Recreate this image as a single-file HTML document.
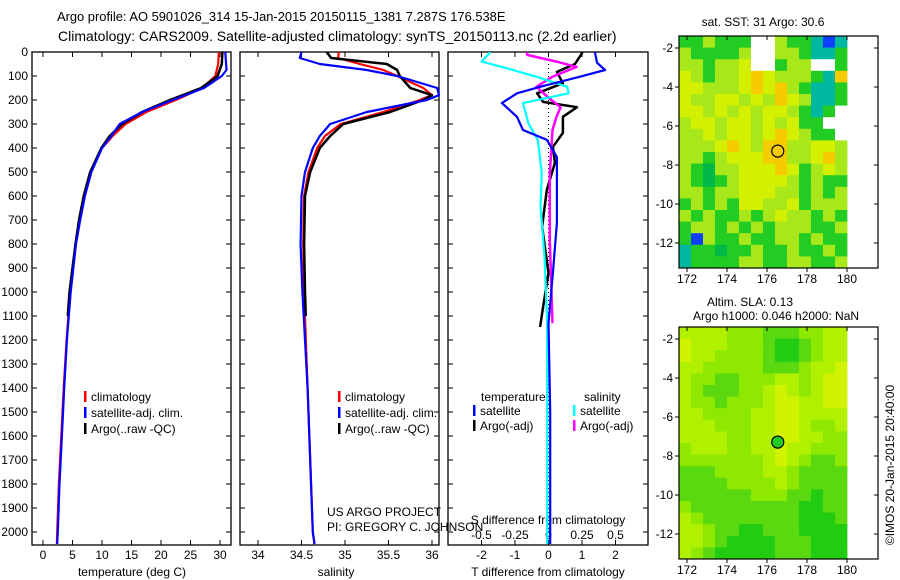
<!DOCTYPE html>
<html><head><meta charset="utf-8"><style>
html,body{margin:0;padding:0;background:#fff;}
svg{display:block;font-family:"Liberation Sans",sans-serif;}
</style></head><body>
<svg id="chart" width="900" height="580" viewBox="0 0 900 580">
<text x="57" y="21" font-size="12.9">Argo profile: AO 5901026_314 15-Jan-2015 20150115_1381 7.287S 176.538E</text>
<text x="58" y="41" font-size="14">Climatology: CARS2009. Satellite-adjusted climatology: synTS_20150113.nc (2.2d earlier)</text>
<g id="g"></g>
</svg>
<script>
// ---- data ----
const depthTclim=[0,50,100,150,200,250,300,350,400,500,600,700,800,1000,1200,1400,1600,1800,2000,2050];
const tempClim=[29.8,29.7,29.2,27,22.5,17.5,14,11.8,10,8.1,7,6.2,5.5,4.6,4,3.5,3.1,2.7,2.4,2.35];
const depthTsat=[0,75,100,150,200,250,300,350,400,500,600,700,800,1000,1200,1400,1600,1800,2000,2050];
const tempSat=[30.9,31.1,30.3,27.3,22,16.8,13,11.6,10,8.2,7.1,6.3,5.6,4.7,4.05,3.6,3.2,2.8,2.5,2.4];
const depthTargo=[0,50,100,150,200,250,300,350,400,500,600,700,800,1000,1100];
const tempArgo=[30.4,30.3,29.6,26.8,21.5,16.8,13.4,11.3,9.9,8,6.9,6.1,5.5,4.5,4.2];

const depthS=[0,25,50,75,100,150,180,200,250,300,350,400,500,600,800,1000,1400,2000,2050];
const salClim=[34.93,34.92,35.17,35.44,35.6,35.9,36.0,35.86,35.44,34.95,34.77,34.68,34.58,34.53,34.52,34.53,34.57,34.63,34.65];
const salSat=[34.5,34.48,34.71,35.25,35.6,36.06,36.08,35.94,35.25,34.83,34.71,34.63,34.54,34.5,34.49,34.51,34.57,34.63,34.65];
const depthSargo=[0,25,50,75,100,150,180,200,250,300,350,400,500,600,800,1000,1100];
const salArgo=[34.79,34.84,35.48,35.6,35.63,35.75,36.0,35.9,35.52,34.98,34.83,34.71,34.6,34.54,34.53,34.54,34.55];

const depthTdSat=[0,5,45,75,103,145,172,213,270,325,366,437,575,712,920,1130,1500,2050];
const tDiffSat=[1.39,1.39,1.45,1.69,0.94,-0.25,-0.94,-1.39,-0.94,-0.76,-0.05,0.25,0.25,0.25,0.13,0,0.05,0.05];
const depthTdArgo=[0,5,50,83,130,172,208,230,270,337,395,462,575,728,920,1062,1146];
const tDiffArgo=[1.0,1.0,0.79,0.25,0.43,-0.34,-0.16,0.85,0.43,0.43,0.13,0.19,-0.05,-0.19,0,-0.16,-0.25];
const depthSdSat=[0,5,40,68,103,145,172,213,297,366,505,645,850,1130,2050];
const sDiffSat=[-0.44,-0.44,-0.5,-0.31,-0.09,0.14,0.15,-0.19,-0.15,-0.08,-0.05,-0.06,-0.03,-0.01,-0.01];
const depthSdArgo=[0,12,40,62,103,145,186,230,270,325,505,785,1130];
const sDiffArgo=[-0.16,-0.16,0.06,0.21,0.03,-0.09,-0.01,0.09,0.06,0.03,0.01,0.01,0.03];

const depthTicks=[0,100,200,300,400,500,600,700,800,900,1000,1100,1200,1300,1400,1500,1600,1700,1800,1900,2000];
const tempTicks=[0,5,10,15,20,25,30];
const salTicks=[34,34.5,35,35.5,36];
const tDiffTicks=[-2,-1,0,1,2];
const sDiffTicks=[-0.5,-0.25,0,0.25,0.5];
const latTicks=[-2,-4,-6,-8,-10,-12];
const lonTicks=[172,174,176,178,180];

const sstGrid=["GGLGGGWWLGGTBT","LGGGGLWWLLGTTG","LLGLLYWWGLLWWG","YLGLLYOYLLLGTO","YYLLLYOYOLGTTG","YLLYYLYLOYLTTG","YYLYLYLYYLGTGW","LYYLYYLYLYGGWW","LLYLYYLYOYLGGW","LLLYOYLOOLLYYL","LLGLYYYOOLLYOL","LGDLLYYYOYGLYL","LGDGLYYYYLGLGG","LLGLLYYYLLGLGL","GLGLGYYLLYGLLL","LGLGGLGLYLLGLG","GLLGLGLGLLLGGL","GBLGGLGGLLGLGG","TGGDGGLGGLGGLG","TGGGGLLGGLLGGL"];
const slaGrid=["LLLLMMMGGGMMLL","YLLLMMMGDDGMLL","YLLMMMMGDDGMLL","LLMMMMMGGGMLLY","LMMGGMMMLLMLYY","LMGGGMMLYLMLYY","LMMGMMMLYYLLYY","LLMMMMLLYYLLLL","LLLMMMLLYYLMML","LLLLMMLLYYLLMM","MLLLMMLLYLLMMM","MMMMMMMLYLMGGM","GGGMMMMLLMGGGG","GGGGMMMMLMGGGG","GGGGGGMMMGGDGG","MGGGGGGGGGDDGG","LMGGGGGGGGDDDG","LLMGGDDGGGDDDD","LLMGDDDDGGGDDD","LMGDDDDDGGGDDD"];
const argoLon=176.538, argoLat=-7.287;

// ---- helpers ----
const NS="http://www.w3.org/2000/svg";
const G=document.getElementById('g');
function mk(tag,attrs,parent){const e=document.createElementNS(NS,tag);for(const k in attrs)e.setAttribute(k,attrs[k]);(parent||G).appendChild(e);return e;}
function txt(x,y,s,size,anchor,parent){const t=mk('text',{x:x,y:y,'font-size':size||12,'text-anchor':anchor||'start'},parent);t.textContent=s;return t;}
const Y=d=>52+d*0.24;
const xT=t=>43+t*5.9;
const xS=s=>258+(s-34)*87;
const xTd=v=>548.5+v*33.5;
const xSd=v=>548.5+v*134;

function frame(x0,x1,name){
  const r=mk('rect',{x:x0,y:52,width:x1-x0,height:493,fill:'none',stroke:'#000','stroke-width':1.3});
  
  
  depthTicks.forEach(d=>{mk('line',{x1:x0,x2:x0+5,y1:Y(d),y2:Y(d),stroke:'#000'});mk('line',{x1:x1,x2:x1-5,y1:Y(d),y2:Y(d),stroke:'#000'});});
}
function xticks(vals,fx,labelY){
  vals.forEach(v=>{const x=fx(v);mk('line',{x1:x,x2:x,y1:545,y2:540,stroke:'#000'});mk('line',{x1:x,x2:x,y1:52,y2:57,stroke:'#000'});
    const t=txt(x,labelY,String(v),12,'middle');
    
    });
}
function line(ds,vs,fx,color,w,name){
  const pts=ds.map((d,i)=>fx(vs[i]).toFixed(1)+','+Y(d).toFixed(1)).join(' ');
  const p=mk('polyline',{points:pts,fill:'none',stroke:color,'stroke-width':w,'stroke-linejoin':'round'});
  
  
}
function legend(x,y,color,label){
  mk('rect',{x:x,y:y-10,width:2.5,height:11,fill:color});
  const t=txt(x+7,y,label,12);
  
  
}

// ---- panel 1: temperature ----
frame(32,231,'temperature-panel');
depthTicks.forEach(d=>{const t=txt(28,Y(d)+4,String(d),12,'end');
  
  });
xticks(tempTicks,xT,559);
line(depthTclim,tempClim,xT,'#ff0000',2.2,'temp-climatology-line');
line(depthTargo,tempArgo,xT,'#000000',2.5,'temp-argo-line');
line(depthTsat,tempSat,xT,'#0000ff',2.2,'temp-satellite-line');
legend(84,401,'#ff0000','climatology');
legend(84,417,'#0000ff','satellite-adj. clim.');
legend(84,433,'#000000','Argo(..raw -QC)');
let at=txt(132,576,'temperature (deg C)',12,'middle');



// ---- panel 2: salinity ----
frame(240,439,'salinity-panel');
xticks(salTicks,xS,559);
line(depthS,salClim,xS,'#ff0000',2.2,'sal-climatology-line');
line(depthSargo,salArgo,xS,'#000000',2.5,'sal-argo-line');
line(depthS,salSat,xS,'#0000ff',2.2,'sal-satellite-line');
legend(338,401,'#ff0000','climatology');
legend(338,417,'#0000ff','satellite-adj. clim.');
legend(338,433,'#000000','Argo(..raw -QC)');
at=txt(336,576,'salinity',12,'middle');


txt(327,516,'US ARGO PROJECT',12);
txt(327,531,'PI: GREGORY C. JOHNSON',12);

// ---- panel 3: differences ----
frame(448,648,'difference-panel');
mk('line',{x1:548.5,x2:548.5,y1:52,y2:545,stroke:'#000','stroke-dasharray':'1,3'});
xticks(tDiffTicks,xTd,559);
sDiffTicks.forEach(v=>{const t=txt(xSd(v),539,String(v),12,'middle');
  
  });
txt(548,524,'S difference from climatology',12,'middle');
at=txt(548,576,'T difference from climatology',12,'middle');


line(depthTdArgo,tDiffArgo,xTd,'#000000',2.5,'t-diff-argo-line');
line(depthSdArgo,sDiffArgo,xSd,'#ff00ff',2.5,'s-diff-argo-line');
line(depthSdSat,sDiffSat,xSd,'#00ffff',2.2,'s-diff-satellite-line');
line(depthTdSat,tDiffSat,xTd,'#0000ff',2.2,'t-diff-satellite-line');
txt(481,401,'temperature',12);
txt(584,401,'salinity',12);
legend(473,415,'#0000ff','satellite');
legend(473,430,'#000000','Argo(-adj)');
legend(573,415,'#00ffff','satellite');
legend(573,430,'#ff00ff','Argo(-adj)');

// ---- maps ----
const sstColors={G:'#22cc22',L:'#a8e81a',Y:'#d2f000',O:'#f4cc00',D:'#00b848',T:'#00b8a0',B:'#1040ff',W:'#ffffff'};
const slaColors={Y:'#d0f400',L:'#b0f000',M:'#8ee800',G:'#5ad810',D:'#22cc12'};
function map(top,grid,colors,name,circleFill){
  const bottom=top+232, left=679, right=878, dataRight=847;
  const lonX=l=>687+(l-172)*20;
  const latY=a=>top+12+(-2-a)*19.5;
  const rows=grid.length, cols=grid[0].length;
  const cw=(dataRight-left)/cols, ch=(bottom-top)/rows;
  const g=mk('g',{});
  
  
  for(let r=0;r<rows;r++)for(let c=0;c<cols;c++){
    const cell=mk('rect',{x:(left+c*cw).toFixed(2),y:(top+r*ch).toFixed(2),width:(cw+0.4).toFixed(2),height:(ch+0.4).toFixed(2),fill:colors[grid[r][c]]},g);
    
    
  }
  mk('rect',{x:left,y:top,width:right-left,height:bottom-top,fill:'none',stroke:'#000','stroke-width':1.2});
  latTicks.forEach(a=>{const y=latY(a);mk('line',{x1:left-4,x2:left,y1:y,y2:y,stroke:'#000'});mk('line',{x1:right,x2:right-4,y1:y,y2:y,stroke:'#000'});
    const t=txt(673,y+4,String(a),12,'end');
    
    });
  lonTicks.forEach(l=>{const x=lonX(l);mk('line',{x1:x,x2:x,y1:bottom,y2:bottom+4,stroke:'#000'});mk('line',{x1:x,x2:x,y1:top,y2:top+4,stroke:'#000'});
    const t=txt(x,bottom+15,String(l),12,'middle');
    
    });
  const c=mk('circle',{cx:lonX(argoLon),cy:latY(argoLat),r:6,fill:circleFill,stroke:'#000','stroke-width':1.2});
  
  
}
map(36,sstGrid,sstColors,'sst-map','none');
map(327,slaGrid,slaColors,'sla-map','#22cc22');
txt(763,26,'sat. SST: 31  Argo: 30.6',12,'middle');
txt(750,306,'Altim. SLA: 0.13',12,'middle');
txt(776,320,'Argo h1000: 0.046 h2000: NaN',12,'middle');
const v=txt(0,0,'\u00A9IMOS 20-Jan-2015 20:40:00',12,'middle');
v.setAttribute('transform','translate(894,465) rotate(-90)');


</script>
</body></html>
